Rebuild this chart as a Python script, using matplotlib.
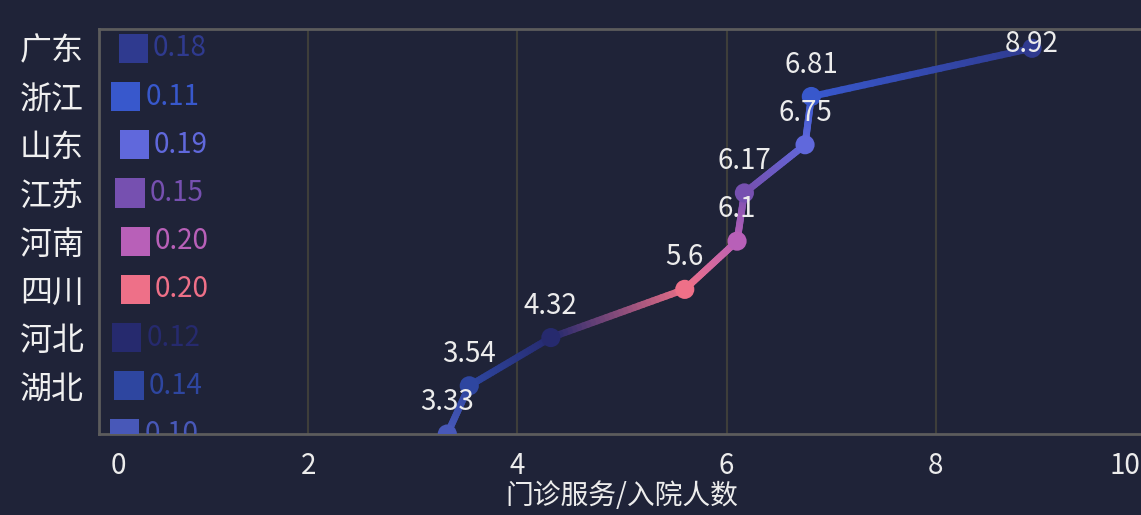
import matplotlib
matplotlib.use("Agg")
import matplotlib.pyplot as plt
import matplotlib.transforms as mtransforms
from matplotlib.collections import LineCollection
from matplotlib.colors import to_rgb
import numpy as np

plt.rcParams['font.family'] = ['Noto Sans CJK SC', 'DejaVu Sans']

provinces = ["广东", "浙江", "山东", "江苏", "河南", "四川", "河北", "湖北", "湖南"]
ratio = [0.18, 0.11, 0.19, 0.15, 0.20, 0.20, 0.12, 0.14, 0.10]
visits = [8.92, 6.81, 6.75, 6.17, 6.1, 5.6, 4.32, 3.54, 3.33]
ratio_labels = ["0.18", "0.11", "0.19", "0.15", "0.20", "0.20", "0.12", "0.14", "0.10"]
visit_labels = ["8.92", "6.81", "6.75", "6.17", "6.1", "5.6", "4.32", "3.54", "3.33"]
colors = ["#2f3a8f", "#3858cc", "#6068dc", "#7650b0", "#b860b8",
          "#ee7088", "#262a6e", "#2e46a0", "#4858b8"]

bg = "#1f2338"
fig = plt.figure(figsize=(11.41, 5.15), dpi=100, facecolor=bg)
ax = fig.add_axes([99 / 1141, 81 / 515, 1046 / 1141, 405 / 515], facecolor=bg)

ypos = np.arange(len(provinces))

# gradient line between the points
segs, segcols = [], []
for i in range(len(visits) - 1):
    c0, c1 = np.array(to_rgb(colors[i])), np.array(to_rgb(colors[i + 1]))
    ts = np.linspace(0, 1, 30)
    for t0, t1 in zip(ts[:-1], ts[1:]):
        p0 = (visits[i] + t0 * (visits[i + 1] - visits[i]), ypos[i] + t0)
        p1 = (visits[i] + t1 * (visits[i + 1] - visits[i]), ypos[i] + t1)
        segs.append([p0, p1])
        segcols.append(c0 + (t0 + t1) / 2 * (c1 - c0))
lc = LineCollection(segs, colors=segcols, linewidths=5, capstyle='round', zorder=3)
ax.add_collection(lc)
ax.scatter(visits, ypos, s=190, c=colors, zorder=4, edgecolors='none')

for i, (v, lab) in enumerate(zip(visits, visit_labels)):
    dy = 23 if i else 3
    ax.annotate(lab, (v, ypos[i]), xytext=(0, dy), textcoords='offset points',
                ha='center', va='center', color='#ececec', fontsize=20, zorder=5)

# squares with the ratio values
sq_tr = mtransforms.offset_copy(ax.transData, fig=fig, x=11, y=0, units='points')
ax.scatter(ratio, ypos, s=21 ** 2, marker='s', c=colors, transform=sq_tr,
           edgecolors='none', zorder=3)
txt_tr = mtransforms.offset_copy(ax.transData, fig=fig, x=25, y=0, units='points')
for i, (r, lab) in enumerate(zip(ratio, ratio_labels)):
    ax.text(r, ypos[i], lab, transform=txt_tr, color=colors[i], fontsize=20,
            ha='left', va='center', zorder=3, clip_on=True)

ax.set_xlim(0, 10)
ax.set_ylim(8, -0.4)
ax.set_xticks([0, 2, 4, 6, 8, 10])
ax.set_yticks(ypos[:8])
ax.set_yticklabels(provinces[:8])
ax.tick_params(axis='y', length=0, pad=11, labelsize=23, labelcolor='#f0f0f0')
ax.tick_params(axis='x', length=0, pad=12, labelsize=20, labelcolor='#ececec')
xl = ax.get_xticklabels()
xl[0].set_transform(xl[0].get_transform() + mtransforms.ScaledTranslation(0.19, 0, fig.dpi_scale_trans))
xl[-1].set_transform(xl[-1].get_transform() + mtransforms.ScaledTranslation(-0.2, 0, fig.dpi_scale_trans))
ax.set_xlabel("门诊服务/入院人数", fontsize=20, color='#ececec', labelpad=0)

ax.grid(axis='x', color='#3e3e3a', linewidth=1.5)
ax.set_axisbelow(True)
for s in ax.spines.values():
    s.set_color('#5c5c5c')
    s.set_linewidth(2)

fig.savefig("out.png", dpi=100, facecolor=bg)
